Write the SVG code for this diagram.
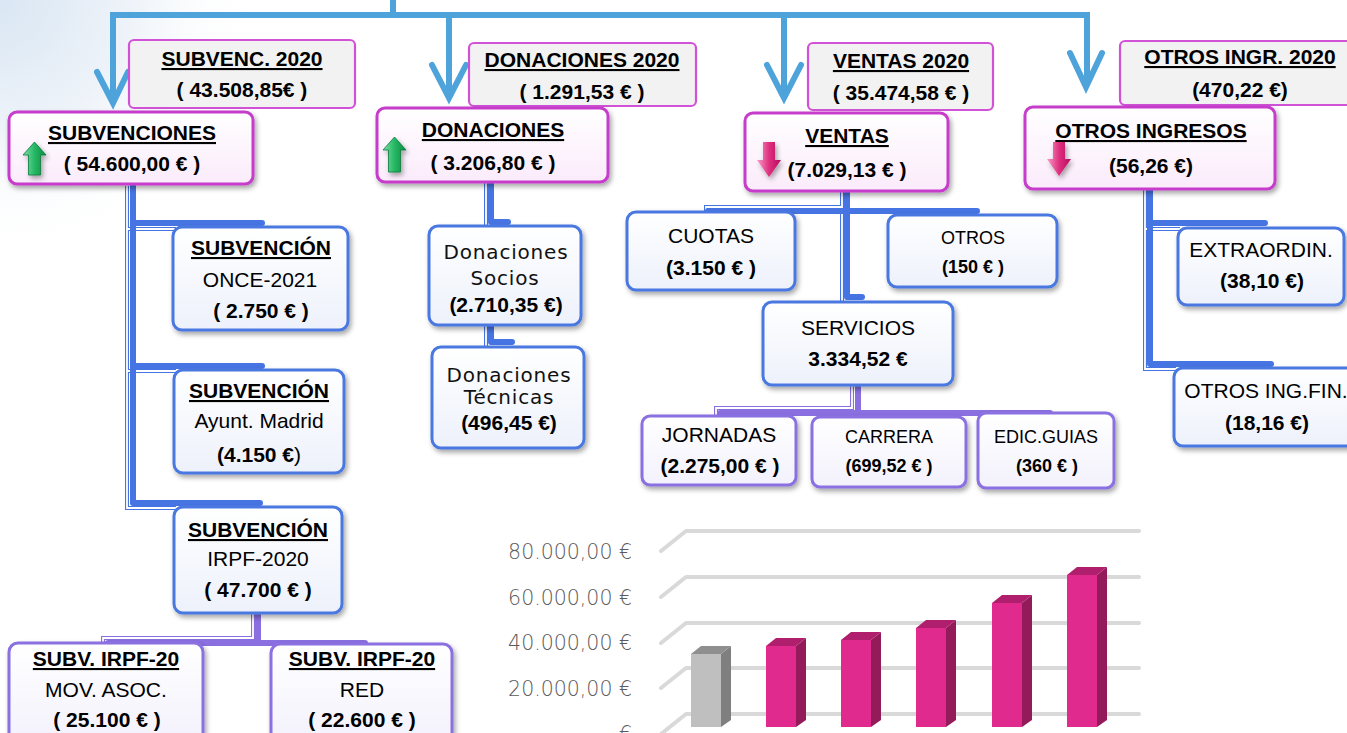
<svg xmlns="http://www.w3.org/2000/svg" width="1347" height="733" viewBox="0 0 1347 733">
<defs>
<radialGradient id="bg" cx="0" cy="0" r="260" gradientUnits="userSpaceOnUse">
<stop offset="0" stop-color="#d9e6f3"/><stop offset="0.5" stop-color="#eef3f9"/><stop offset="1" stop-color="#ffffff" stop-opacity="0"/>
</radialGradient>
<linearGradient id="gPink" x1="0" y1="0" x2="0" y2="1"><stop offset="0" stop-color="#ffffff"/><stop offset="1" stop-color="#fbebfb"/></linearGradient>
<linearGradient id="gBlue" x1="0" y1="0" x2="0" y2="1"><stop offset="0" stop-color="#ffffff"/><stop offset="1" stop-color="#edf1fb"/></linearGradient>
<linearGradient id="gPurp" x1="0" y1="0" x2="0" y2="1"><stop offset="0" stop-color="#ffffff"/><stop offset="1" stop-color="#f3f1fc"/></linearGradient>
<linearGradient id="gGreen" x1="0" y1="0" x2="1" y2="0"><stop offset="0" stop-color="#7fe0a6"/><stop offset="0.5" stop-color="#25b865"/><stop offset="1" stop-color="#0e8a42"/></linearGradient>
<linearGradient id="gRed" x1="0" y1="0" x2="1" y2="0"><stop offset="0" stop-color="#f79cc9"/><stop offset="0.5" stop-color="#e0307f"/><stop offset="1" stop-color="#b50c60"/></linearGradient>
<filter id="sh" x="-10%" y="-10%" width="130%" height="140%"><feDropShadow dx="2" dy="3" stdDeviation="2.5" flood-color="#000" flood-opacity="0.35"/></filter>
</defs>
<style>
.b{font-family:"Liberation Sans",Arial,sans-serif;font-weight:bold;font-size:21px;fill:#000;text-anchor:middle}
.r{font-family:"Liberation Sans",Arial,sans-serif;font-size:21px;fill:#000;text-anchor:middle}
.s{font-size:18px}
.u{text-decoration:underline}
.g{font-family:"DejaVu Sans",sans-serif;font-size:20px;letter-spacing:0.8px;fill:#111;text-anchor:middle}
.ax{font-family:"DejaVu Sans",sans-serif;font-size:20.5px;fill:#5a5a5a;text-anchor:end;font-weight:300}
.top{fill:#f2f2f2;stroke:#d152d6;stroke-width:2.2}
.main{fill:url(#gPink);stroke:#c63dcb;stroke-width:3;filter:url(#sh)}
.blue{fill:url(#gBlue);stroke:#4a78e0;stroke-width:3;filter:url(#sh)}
.purp{fill:url(#gPurp);stroke:#8a6fe0;stroke-width:3;filter:url(#sh)}
.tl{fill:none;stroke:#4fa3db;stroke-width:6}
.cb{fill:none;stroke:#4674e2;stroke-width:6;stroke-linecap:round;stroke-linejoin:round}
.cbh{fill:none;stroke:#4674e2;stroke-width:4}
.cp{fill:none;stroke:#8a6fe0;stroke-width:6;stroke-linecap:round;stroke-linejoin:round}
.cph{fill:none;stroke:#8a6fe0;stroke-width:4}
.hw{fill:none;stroke:#ffffff;stroke-width:1.8}
.grid{fill:none;stroke:#d9d9d9;stroke-width:4;stroke-linecap:round;stroke-linejoin:round}
.pf{fill:#e12a8d}.ps{fill:#941b5a}.pt{fill:#b01f6e}
.gf{fill:#bfbfbf}.gs{fill:#7f7f7f}.gt{fill:#8f8f8f}
</style>
<rect width="1347" height="733" fill="#ffffff"/>
<rect width="1347" height="733" fill="url(#bg)"/>

<g id="chart">
<path class="grid" d="M661,551 L686,531 H1139 M661,597 L686,577 H1139 M661,643 L686,623 H1139 M661,688 L686,668 H1139 M661,734 L686,714 H1139"/>
<text class="ax" x="632" y="559">80.000,00 €</text>
<text class="ax" x="632" y="605">60.000,00 €</text>
<text class="ax" x="632" y="650">40.000,00 €</text>
<text class="ax" x="632" y="696">20.000,00 €</text>
<text class="ax" x="632" y="741">€</text>
<g id="bar1"><rect class="gf" x="691" y="654" width="30" height="73"/><polygon class="gs" points="721,654 731,646 731,720 721,727"/><polygon class="gt" points="691,654 701,646 731,646 721,654"/></g>
<g id="bar2"><rect class="pf" x="766" y="646" width="30" height="81"/><polygon class="ps" points="796,646 806,638 806,720 796,727"/><polygon class="pt" points="766,646 776,638 806,638 796,646"/></g>
<g id="bar3"><rect class="pf" x="841" y="640" width="30" height="87"/><polygon class="ps" points="871,640 881,632 881,720 871,727"/><polygon class="pt" points="841,640 851,632 881,632 871,640"/></g>
<g id="bar4"><rect class="pf" x="916" y="628" width="30" height="99"/><polygon class="ps" points="946,628 956,620 956,720 946,727"/><polygon class="pt" points="916,628 926,620 956,620 946,628"/></g>
<g id="bar5"><rect class="pf" x="992" y="603" width="30" height="124"/><polygon class="ps" points="1022,603 1032,595 1032,720 1022,727"/><polygon class="pt" points="992,603 1002,595 1032,595 1022,603"/></g>
<g id="bar6"><rect class="pf" x="1067" y="575" width="30" height="152"/><polygon class="ps" points="1097,575 1107,567 1107,720 1097,727"/><polygon class="pt" points="1067,575 1077,567 1107,567 1097,575"/></g>
</g>

<g id="connectors">
<path class="tl" d="M113,100 V15 H1087 V84 M393,0 V15 M449,15 V95 M784,15 V95"/>
<path class="tl" stroke-linecap="round" d="M97,72 L113,103 L128,72 M432,65 L449,98 L466,65 M767,65 L784,98 L801,65 M1070,53 L1086,87 L1102,53"/>
<!-- subvenciones tree -->
<path class="cbh" d="M127,186 V508 H176 M127,229 H176 M127,371 H176"/>
<path class="hw" d="M127,186 V508 H176 M127,229 H176 M127,371 H176"/>
<path class="cb" d="M133,184 V503 H260 M133,223 H262 M133,366 H262"/>
<!-- donaciones tree -->
<path class="cbh" d="M486,182 V228 M486,325 V347"/>
<path class="hw" d="M486,182 V228 M486,325 V347"/>
<path class="cb" d="M491,182 V222 H508 M491,325 V342 H512"/>
<!-- ventas tree -->
<path class="cbh" d="M842,191 V301 M706,214 V207 H842"/>
<path class="hw" d="M842,191 V301 M706,214 V207 H842"/>
<path class="cb" d="M847,191 V297 H862 M708,211 H977"/>
<!-- servicios tree -->
<path class="cph" d="M852,386 V408 H716 V416"/>
<path class="hw" d="M852,386 V408 H716 V416"/>
<path class="cp" d="M858,386 V411 M720,413 H1050"/>
<!-- irpf tree -->
<path class="cph" d="M253,613 V638 H103 V645"/>
<path class="hw" d="M253,613 V638 H103 V645"/>
<path class="cp" d="M258,613 V641 M108,643 H365"/>
<!-- otros ingresos tree -->
<path class="cbh" d="M1145,189 V369 H1176 M1145,229 H1180"/>
<path class="hw" d="M1145,189 V369 H1176 M1145,229 H1180"/>
<path class="cb" d="M1150,189 V364 H1271 M1150,223 H1265"/>
</g>

<g id="subvenc2020"><rect class="top" x="129" y="40" width="226" height="68" rx="5"/>
<text class="b u" x="242" y="66">SUBVENC. 2020</text><text class="b" x="242" y="97">( 43.508,85€ )</text></g>
<g id="subvenciones"><rect class="main" x="9" y="112" width="244" height="72" rx="8"/>
<text class="b u" x="132" y="140">SUBVENCIONES</text><text class="b" x="132" y="171">( 54.600,00 € )</text>
<polygon points="34.5,142 46,155 40.5,155 40.5,175 28.5,175 28.5,155 23,155" fill="url(#gGreen)" stroke="#0b7a3a" stroke-width="0.8" filter="url(#sh)"/></g>

<g id="donaciones2020"><rect class="top" x="469" y="43" width="227" height="63" rx="5"/>
<text class="b u" x="582" y="67">DONACIONES 2020</text><text class="b" x="582" y="99">( 1.291,53 € )</text></g>
<g id="donaciones"><rect class="main" x="377" y="108" width="231" height="74" rx="8"/>
<text class="b u" x="493" y="137">DONACIONES</text><text class="b" x="493" y="170">( 3.206,80 € )</text>
<polygon points="394.5,137 406,150 400.5,150 400.5,172 388.5,172 388.5,150 383,150" fill="url(#gGreen)" stroke="#0b7a3a" stroke-width="0.8" filter="url(#sh)"/></g>

<g id="ventas2020"><rect class="top" x="808" y="43" width="185" height="67" rx="5"/>
<text class="b u" x="901" y="68">VENTAS 2020</text><text class="b" x="901" y="100">( 35.474,58 € )</text></g>
<g id="ventas"><rect class="main" x="745" y="113" width="203" height="78" rx="8"/>
<text class="b u" x="847" y="143">VENTAS</text><text class="b" x="847" y="177">(7.029,13 € )</text>
<polygon points="763,142 775,142 775,160 781,160 769,177 757,160 763,160" fill="url(#gRed)" filter="url(#sh)"/></g>

<g id="otros2020"><rect class="top" x="1120" y="41" width="240" height="64" rx="5"/>
<text class="b u" x="1240" y="64">OTROS INGR. 2020</text><text class="b" x="1240" y="97">(470,22 €)</text></g>
<g id="otrosingresos"><rect class="main" x="1025" y="107" width="250" height="82" rx="8"/>
<text class="b u" x="1151" y="138">OTROS INGRESOS</text><text class="b" x="1151" y="173">(56,26 €)</text>
<polygon points="1053,142 1065,142 1065,159 1071,159 1059,176 1047,159 1053,159" fill="url(#gRed)" filter="url(#sh)"/></g>

<g id="once"><rect class="blue" x="173" y="227" width="175" height="103" rx="9"/>
<text class="b u" x="261" y="255">SUBVENCIÓN</text><text class="r" x="260" y="287">ONCE-2021</text><text class="b" x="261" y="318">( 2.750 € )</text></g>
<g id="ayunt"><rect class="blue" x="174" y="370" width="170" height="103" rx="9"/>
<text class="b u" x="259" y="398">SUBVENCIÓN</text><text class="r" x="259" y="428">Ayunt. Madrid</text><text class="b" x="259" y="462">(4.150 €<tspan font-weight="normal">)</tspan></text></g>
<g id="irpf"><rect class="blue" x="174" y="507" width="168" height="106" rx="9"/>
<text class="b u" x="258" y="537">SUBVENCIÓN</text><text class="r" x="258" y="566">IRPF-2020</text><text class="b" x="258" y="597">( 47.700 € )</text></g>
<g id="movasoc"><rect class="purp" x="9" y="643" width="194" height="100" rx="9"/>
<text class="b u" x="106" y="666">SUBV. IRPF-20</text><text class="r" x="106" y="697">MOV. ASOC.</text><text class="b" x="107" y="727">( 25.100 € )</text></g>
<g id="red"><rect class="purp" x="271" y="644" width="181" height="100" rx="9"/>
<text class="b u" x="362" y="666">SUBV. IRPF-20</text><text class="r" x="362" y="697">RED</text><text class="b" x="362" y="727">( 22.600 € )</text></g>

<g id="socios"><rect class="blue" x="429" y="226" width="152" height="99" rx="9"/>
<text class="g" x="506" y="259">Donaciones</text><text class="g" x="505" y="285">Socios</text><text class="b" x="506" y="312">(2.710,35 €)</text></g>
<g id="tecnicas"><rect class="blue" x="432" y="347" width="152" height="101" rx="9"/>
<text class="g" x="509" y="382">Donaciones</text><text class="g" x="509" y="404">Técnicas</text><text class="b" x="509" y="430">(496,45 €)</text></g>

<g id="cuotas"><rect class="blue" x="627" y="212" width="168" height="78" rx="9"/>
<text class="r" x="711" y="243">CUOTAS</text><text class="b" x="711" y="275">(3.150 € )</text></g>
<g id="otros"><rect class="blue" x="888" y="215" width="169" height="72" rx="9"/>
<text class="r s" x="973" y="244">OTROS</text><text class="b s" x="973" y="273">(150 € )</text></g>
<g id="servicios"><rect class="blue" x="763" y="302" width="190" height="83" rx="9"/>
<text class="r" x="858" y="335">SERVICIOS</text><text class="b" x="858" y="366">3.334,52 €</text></g>
<g id="jornadas"><rect class="purp" x="642" y="416" width="154" height="69" rx="8"/>
<text class="r" x="719" y="442">JORNADAS</text><text class="b" x="720" y="473">(2.275,00 € )</text></g>
<g id="carrera"><rect class="purp" x="812" y="417" width="154" height="70" rx="8"/>
<text class="r s" x="889" y="443">CARRERA</text><text class="b s" x="889" y="472">(699,52 € )</text></g>
<g id="edic"><rect class="purp" x="978" y="413" width="136" height="75" rx="8"/>
<text class="r s" x="1046" y="443">EDIC.GUIAS</text><text class="b s" x="1047" y="472">(360 € )</text></g>

<g id="extraordin"><rect class="blue" x="1178" y="228" width="166" height="77" rx="9"/>
<text class="r" x="1261" y="257">EXTRAORDIN.</text><text class="b" x="1262" y="288">(38,10 €)</text></g>
<g id="otrosingfin"><rect class="blue" x="1174" y="368" width="190" height="78" rx="9"/>
<text class="r" x="1266" y="398">OTROS ING.FIN.</text><text class="b" x="1267" y="430">(18,16 €)</text></g>
</svg>
